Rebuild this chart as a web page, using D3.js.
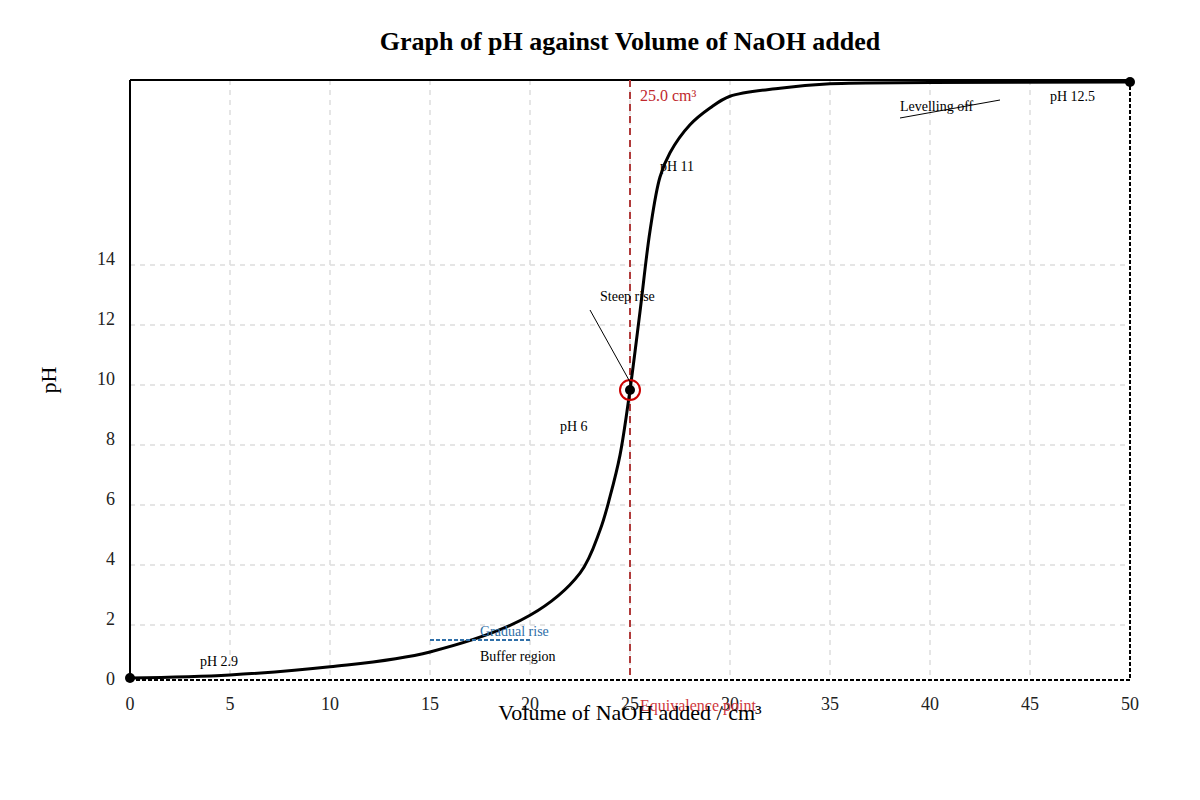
<!DOCTYPE html>
<html>
<head>
<meta charset="utf-8">
<script src="https://cdn.jsdelivr.net/npm/d3@7"></script>
<style>
  body { margin: 0; background: #fff; }
  text { font-family: "Liberation Serif", "DejaVu Serif", serif; }
</style>
</head>
<body>
<svg width="1200" height="800"></svg>
<script>
// titration data (volume in cm3, pH)
const volume = [0, 5, 10, 15, 20, 22.5, 23.5, 24, 24.5, 25, 25.5, 26, 26.5, 27, 28, 29, 30, 32.5, 35, 40, 50];
const ph = [2.9, 2.95, 3.08, 3.32, 3.91, 4.59, 5.28, 5.82, 6.49, 7.54, 8.8, 10.1, 10.97, 11.36, 11.81, 12.08, 12.27, 12.4, 12.47, 12.49, 12.5];
const xTicks = [0, 5, 10, 15, 20, 25, 30, 35, 40, 45, 50];
const yTicks = [0, 2, 4, 6, 8, 10, 12, 14];
const equivVolume = 25;
const equivPh = 7.54;

const data = volume.map((v, i) => ({ v, ph: ph[i] }));

const svg = d3.select('svg');
const m = { top: 80, right: 70, bottom: 120, left: 130 };
const width = 1200 - m.left - m.right;
const height = 800 - m.top - m.bottom;
const g = svg.append('g').attr('transform', `translate(${m.left}, ${m.top})`);

const x = d3.scaleLinear().domain([0, 50]).range([0, width]);
// axis scale (tick labels / grid)
const y = d3.scaleLinear().domain([0, 20]).range([height + 5, 5]);
// curve scale
const yc = d3.scaleLinear().domain(d3.extent(ph)).range([height - 2, 2]);

// grid
g.append('g')
  .selectAll('line.vg')
  .data(xTicks.slice(1, -1))
  .join('line')
  .attr('x1', d => x(d)).attr('x2', d => x(d))
  .attr('y1', 0).attr('y2', height)
  .attr('stroke', '#ddd').attr('stroke-width', 1.5)
  .attr('stroke-dasharray', '5,5');

g.append('g')
  .selectAll('line.hg')
  .data(yTicks.slice(1))
  .join('line')
  .attr('x1', 0).attr('x2', width)
  .attr('y1', d => y(d)).attr('y2', d => y(d))
  .attr('stroke', '#ddd').attr('stroke-width', 1.5)
  .attr('stroke-dasharray', '5,5');

// frame
g.append('line').attr('x1', 0).attr('x2', width).attr('y1', 0).attr('y2', 0)
  .attr('stroke', '#000').attr('stroke-width', 2);
g.append('line').attr('x1', 0).attr('x2', 0).attr('y1', 0).attr('y2', height)
  .attr('stroke', '#000').attr('stroke-width', 2);
g.append('line').attr('x1', 0).attr('x2', width).attr('y1', height).attr('y2', height)
  .attr('stroke', '#000').attr('stroke-width', 2).attr('stroke-dasharray', '4,2');
g.append('line').attr('x1', width).attr('x2', width).attr('y1', 0).attr('y2', height)
  .attr('stroke', '#000').attr('stroke-width', 2).attr('stroke-dasharray', '4,2');

// tick labels
g.append('g')
  .selectAll('text')
  .data(xTicks)
  .join('text')
  .attr('x', d => x(d))
  .attr('y', height + 30)
  .attr('text-anchor', 'middle')
  .attr('font-size', 18)
  .attr('fill', '#222')
  .text(d => d);

g.append('g')
  .selectAll('text')
  .data(yTicks)
  .join('text')
  .attr('x', -15)
  .attr('y', d => y(d))
  .attr('text-anchor', 'end')
  .attr('font-size', 18)
  .attr('fill', '#222')
  .text(d => d);

// equivalence line
g.append('line')
  .attr('x1', x(equivVolume)).attr('x2', x(equivVolume))
  .attr('y1', 0).attr('y2', height)
  .attr('stroke', '#b03a3a').attr('stroke-width', 2)
  .attr('stroke-dasharray', '7,5');

// curve
const line = d3.line()
  .x(d => x(d.v))
  .y(d => yc(d.ph))
  .curve(d3.curveCatmullRom.alpha(0.5));

g.append('path')
  .datum(data)
  .attr('fill', 'none')
  .attr('stroke', '#000')
  .attr('stroke-width', 3)
  .attr('stroke-linejoin', 'round')
  .attr('d', line);

// end points
g.selectAll('circle.end')
  .data([data[0], data[data.length - 1]])
  .join('circle')
  .attr('cx', d => x(d.v)).attr('cy', d => yc(d.ph))
  .attr('r', 5).attr('fill', '#000');

// equivalence marker
g.append('circle')
  .attr('cx', x(equivVolume)).attr('cy', yc(equivPh))
  .attr('r', 10).attr('fill', 'none')
  .attr('stroke', '#c00').attr('stroke-width', 2);
g.append('circle')
  .attr('cx', x(equivVolume)).attr('cy', yc(equivPh))
  .attr('r', 5).attr('fill', '#000');

// annotations
const note = (tx, ty, s, opts = {}) => g.append('text')
  .attr('x', tx).attr('y', ty)
  .attr('font-size', opts.size || 14)
  .attr('fill', opts.fill || '#000')
  .text(s);

note(x(equivVolume) + 10, 21, '25.0 cm³', { fill: '#c0282d', size: 16 });
note(x(equivVolume) + 10, 631, 'Equivalence point', { fill: '#d0383d', size: 16 });

note(x(23.5), 221, 'Steep rise');
g.append('line')
  .attr('x1', x(23)).attr('y1', 230)
  .attr('x2', x(equivVolume)).attr('y2', yc(equivPh) - 8)
  .attr('stroke', '#000').attr('stroke-width', 1);

note(x(26.5), 91, 'pH 11');
note(x(21.5), 351, 'pH 6');
note(x(3.5), 586, 'pH 2.9');
note(x(38.5), 31, 'Levelling off');
g.append('line')
  .attr('x1', x(38.5)).attr('y1', 38)
  .attr('x2', x(43.5)).attr('y2', 20)
  .attr('stroke', '#000').attr('stroke-width', 1);
note(x(46), 21, 'pH 12.5');

g.append('line')
  .attr('x1', x(15)).attr('x2', x(20))
  .attr('y1', 560).attr('y2', 560)
  .attr('stroke', '#2f6fa8').attr('stroke-width', 2)
  .attr('stroke-dasharray', '4,2');
note(x(17.5), 556, 'Gradual rise', { fill: '#2f6fa8' });
note(x(17.5), 581, 'Buffer region');

// axis titles
svg.append('text')
  .attr('x', 630).attr('y', 720)
  .attr('text-anchor', 'middle')
  .attr('font-size', 22)
  .text('Volume of NaOH added / cm³');

svg.append('text')
  .attr('transform', 'translate(56, 380) rotate(-90)')
  .attr('text-anchor', 'middle')
  .attr('font-size', 22)
  .text('pH');

svg.append('text')
  .attr('x', 630).attr('y', 50)
  .attr('text-anchor', 'middle')
  .attr('font-size', 26)
  .attr('font-weight', 'bold')
  .text('Graph of pH against Volume of NaOH added');
</script>
</body>
</html>
